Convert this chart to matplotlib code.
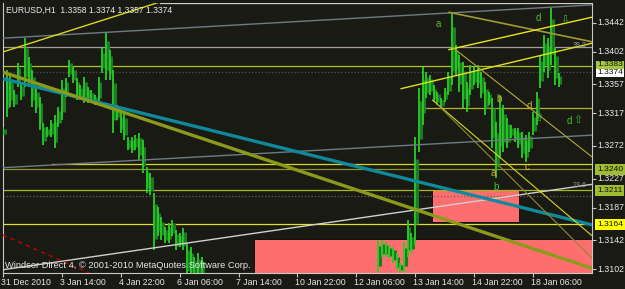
import matplotlib
matplotlib.use("Agg")
import matplotlib.pyplot as plt
from matplotlib.patches import Rectangle

# ---------------- data (bar index = hours from chart start, prices) ----------------
bars_a = list(range(0, 110, 2))
highs_a = [1.3298, 1.3377, 1.3373, 1.3349, 1.3387, 1.3359, 1.3421, 1.3395, 1.3377, 1.3354,
           1.3340, 1.3304, 1.3298, 1.3308, 1.3315, 1.3326, 1.3363, 1.3366, 1.3391, 1.3381,
           1.3366, 1.3356, 1.3367, 1.3354, 1.3349, 1.3342, 1.3367, 1.3407, 1.3430, 1.3405,
           1.3377, 1.3329, 1.3318, 1.3318, 1.3284, 1.3284, 1.3287, 1.3290, 1.3280, 1.3243,
           1.3235, 1.3207, 1.3188, 1.3174, 1.3160, 1.3166, 1.3170, 1.3156, 1.3152, 1.3159,
           1.3138, 1.3132, 1.3118, 1.3124, 1.3118]
lows_a = [1.3287, 1.3312, 1.3326, 1.3326, 1.3354, 1.3336, 1.3354, 1.3354, 1.3326, 1.3318,
          1.3294, 1.3273, 1.3284, 1.3284, 1.3269, 1.3298, 1.3308, 1.3340, 1.3367, 1.3359,
          1.3336, 1.3336, 1.3331, 1.3331, 1.3333, 1.3329, 1.3331, 1.3373, 1.3363, 1.3363,
          1.3290, 1.3308, 1.3290, 1.3280, 1.3266, 1.3262, 1.3266, 1.3252, 1.3235, 1.3207,
          1.3204, 1.3128, 1.3147, 1.3142, 1.3138, 1.3138, 1.3147, 1.3128, 1.3132, 1.3128,
          1.3090, 1.3090, 1.3090, 1.3085, 1.3085]

bars_b = list(range(204, 304, 2))
highs_b = [1.3142, 1.3142, 1.3139, 1.3135, 1.3132, 1.3124, 1.3110, 1.3139, 1.3170, 1.3152,
           1.3284, 1.3352, 1.3381, 1.3374, 1.3370, 1.3356, 1.3347, 1.3338, 1.3352, 1.3374,
           1.3457, 1.3412, 1.3398, 1.3388, 1.3360, 1.3384, 1.3381, 1.3384, 1.3374, 1.3360,
           1.3347, 1.3338, 1.3305, 1.3342, 1.3329, 1.3311, 1.3301, 1.3297, 1.3297, 1.3291,
           1.3287, 1.3291, 1.3319, 1.3347, 1.3398, 1.3425, 1.3421, 1.3463, 1.3407, 1.3373]
lows_b = [1.3098, 1.3118, 1.3118, 1.3117, 1.3110, 1.3100, 1.3098, 1.3098, 1.3118, 1.3124,
          1.3135, 1.3264, 1.3301, 1.3338, 1.3342, 1.3333, 1.3329, 1.3325, 1.3333, 1.3342,
          1.3356, 1.3370, 1.3347, 1.3325, 1.3319, 1.3342, 1.3356, 1.3352, 1.3338, 1.3315,
          1.3329, 1.3269, 1.3228, 1.3255, 1.3264, 1.3269, 1.3283, 1.3278, 1.3269, 1.3255,
          1.3250, 1.3264, 1.3287, 1.3301, 1.3352, 1.3374, 1.3366, 1.3384, 1.3356, 1.3354]

y_ticks = [1.3442, 1.3402, 1.3357, 1.3317, 1.3272, 1.3227, 1.3187, 1.3142, 1.3102]
x_tick_bars = [0, 32, 64, 96, 128, 160, 192, 224, 256, 288]
x_tick_labels = ["31 Dec 2010", "3 Jan 14:00", "4 Jan 22:00", "6 Jan 06:00", "7 Jan 14:00",
                 "10 Jan 22:00", "12 Jan 06:00", "13 Jan 14:00", "14 Jan 22:00", "18 Jan 06:00"]

# horizontal lines
h_prices = [1.3470, 1.3409, 1.3383, 1.3374, 1.3325, 1.3247, 1.3240, 1.3211, 1.3203, 1.3164]
h_start = [85.3, 0, 0, 0, 226.6, 26.6, 0, 0, 0, 0]
h_colors = ["#d4d0cc", "#a49c94", "#a8c41e", "#50504a", "#b8ac2c", "#d8d426", "#8a9228",
            "#a4b81e", "#6c5c5c", "#e4e02a"]
h_styles = ["-", "-", "-", ":", "-", "-", "-", "-", ":", "-"]

# trend lines: start bar, start price, end bar, end price
t_bar0 = [0, 0, 0, 0, 0, 0, 0, 216, 242, 242, 244, 233.2, 235.9]
t_p0 = [1.3421, 1.3242, 1.3101, 1.3149, 1.3365, 1.3374, 1.3402, 1.3351, 1.3457, 1.3405,
        1.3409, 1.3336, 1.3330]
t_bar1 = [320.1, 320.1, 320.1, 47.3, 320.1, 320.1, 85.3, 320.1, 320.1, 320.1, 320.1, 320.1, 320.1]
t_p1 = [1.3467, 1.3287, 1.3219, 1.3096, 1.3163, 1.3103, 1.3471, 1.3414, 1.3416, 1.3450,
        1.3257, 1.3148, 1.3117]
t_colors = ["#6e7a86", "#6e7a86", "#d0d0d0", "#c80000", "#0e8a9c", "#8c9a1a", "#d8d818",
            "#e0e020", "#a09a30", "#e8e41c", "#b4aa34", "#d8d420", "#8c8a30"]
t_widths = [1.0, 1.0, 1.0, 1.0, 2.4, 2.4, 1.0, 1.0, 1.2, 1.0, 0.8, 0.8, 0.8]
t_styles = ["-", "-", "-", (0, (3, 3)), "-", "-", "-", "-", "-", "-", "-", "-", "-"]

# rectangles: bar0, bar1, price_low, price_high
r_bar0 = [136.4, 233.2]
r_bar1 = [330.0, 280.4]
r_low = [1.3050, 1.3167]
r_high = [1.3143, 1.3211]

# price marks on the right axis
mark_prices = [1.3383, 1.3374, 1.3240, 1.3211, 1.3164]
mark_shift = [0.00010, -0.00010, 0, 0, 0]
mark_pad = [0.1, 0.1, 0.25, 0.25, 0.25]
mark_bg = ["#a8c83c", "#ffffff", "#a0bc30", "#a0bc30", "#ffff00"]

# wave labels: text, bar, price, color
lbl_text = ["a", "d", "b", "d", "c", "a", "b", "d"]
lbl_bar = [236.4, 290.8, 269.6, 285.9, 284.8, 266.3, 268.0, 307.6]
lbl_price = [1.3441, 1.3449, 1.3337, 1.3327, 1.3243, 1.3235, 1.3215, 1.3307]
lbl_color = ["#50c030", "#50c030", "#c8b430", "#c8b430", "#e0d020", "#c8b430", "#50c030", "#50c030"]

arrow_text = ["\u21e9", "\u21e7", "\u21e7"]
arrow_bar = [305.4, 291.3, 312.5]
arrow_price = [1.3446, 1.3311, 1.3308]

BG = "#1a1a15"
FG = "#e8e8e8"
FONT = "Liberation Sans"

W, H = 625, 289
fig = plt.figure(figsize=(W / 100, H / 100), dpi=100, facecolor=BG)
L, R, T, B = 3, 592, 3, 273
ax = fig.add_axes([L / W, 1 - B / H, (R - L) / W, (B - T) / H], facecolor=BG)
ax.set_xlim(0, 320.1)
ax.set_ylim(1.30965, 1.34696)

for sp in ax.spines.values():
    sp.set_color("#c8c8c8")
    sp.set_linewidth(0.8)
ax.spines["top"].set_visible(False)

# rectangles
for b0, b1, lo, hi in zip(r_bar0, r_bar1, r_low, r_high):
    ax.add_patch(Rectangle((b0, lo), b1 - b0, hi - lo, facecolor="#ff6e6e",
                           edgecolor="#101010", linewidth=0.7, zorder=1))

# horizontal lines
for p, s, c, ls in zip(h_prices, h_start, h_colors, h_styles):
    ax.plot([s, 320.1], [p, p], color=c, lw=0.9, ls=ls, zorder=2)

# candles: dark body underlay + bright bar line
for bx, hi, lo in ((bars_a, highs_a, lows_a), (bars_b, highs_b, lows_b)):
    mids_hi = [l + (h - l) * 0.8 for h, l in zip(hi, lo)]
    mids_lo = [l + (h - l) * 0.2 for h, l in zip(hi, lo)]
    ax.vlines([b + 0.9 for b in bx], mids_lo, mids_hi, color="#1f7a24", lw=2.2, zorder=3)
    ax.vlines(bx, lo, hi, color="#26d026", lw=1.3, zorder=3.1)

# trend lines
for b0, p0, b1, p1, c, w, ls in zip(t_bar0, t_p0, t_bar1, t_p1, t_colors, t_widths, t_styles):
    ax.plot([b0, b1], [p0, p1], color=c, lw=w, ls=ls, zorder=4, solid_capstyle="butt")

# ticks
ax.set_xticks(x_tick_bars)
ax.set_xticklabels([])
ax.set_yticks(y_ticks)
ax.set_yticklabels([])
ax.tick_params(axis="x", colors="#c8c8c8", length=3, width=0.8, direction="out")
ax.tick_params(axis="y", colors="#c8c8c8", length=3, width=0.8, direction="out",
               left=False, right=True)

xt = ax.get_xaxis_transform()
for b, t in zip(x_tick_bars, x_tick_labels):
    ax.text(b - 1.2, -9.5 / 270, t, transform=xt, ha="left", va="center", color=FG,
            fontsize=6.3, family=FONT, clip_on=False)

yt = ax.get_yaxis_transform()
for p in y_ticks:
    ax.text(1.0085, p, f"{p:.4f}", transform=yt, ha="left", va="center", color=FG,
            fontsize=6.3, family=FONT, clip_on=False)

for p, sh, pd, bg in zip(mark_prices, mark_shift, mark_pad, mark_bg):
    ax.text(1.0085, p + sh, f"{p:.4f}", transform=yt, ha="left", va="center", color="#101010",
            fontsize=6.1, family=FONT, clip_on=False, zorder=6,
            bbox=dict(boxstyle=f"square,pad={pd}", facecolor=bg, edgecolor="none"))

# labels
for t, b, p, c in zip(lbl_text, lbl_bar, lbl_price, lbl_color):
    ax.text(b, p, t, color=c, fontsize=7, family=FONT, ha="center", va="center", zorder=5)
for t, b, p in zip(arrow_text, arrow_bar, arrow_price):
    ax.text(b, p, t, color="#40b030", fontsize=8, family="DejaVu Sans", ha="center",
            va="center", zorder=5)

ax.text(317, 1.3406, "38.2", color="#9a9a9a", fontsize=5, family=FONT, ha="right", va="bottom", zorder=5)
ax.text(317, 1.3213, "23.6", color="#9a9a9a", fontsize=5, family=FONT, ha="right", va="bottom", zorder=5)

fig.text(6 / W, 1 - 10 / H, "EURUSD,H1  1.3358 1.3374 1.3357 1.3374", color=FG,
         fontsize=6.2, family=FONT, ha="left", va="center")
fig.text(5 / W, 1 - 265 / H, "Windsor Direct 4, \u00a9 2001-2010 MetaQuotes Software Corp.",
         color=FG, fontsize=6.7, family=FONT, ha="left", va="center", zorder=10)

fig.savefig("out.png", dpi=100, facecolor=BG)
